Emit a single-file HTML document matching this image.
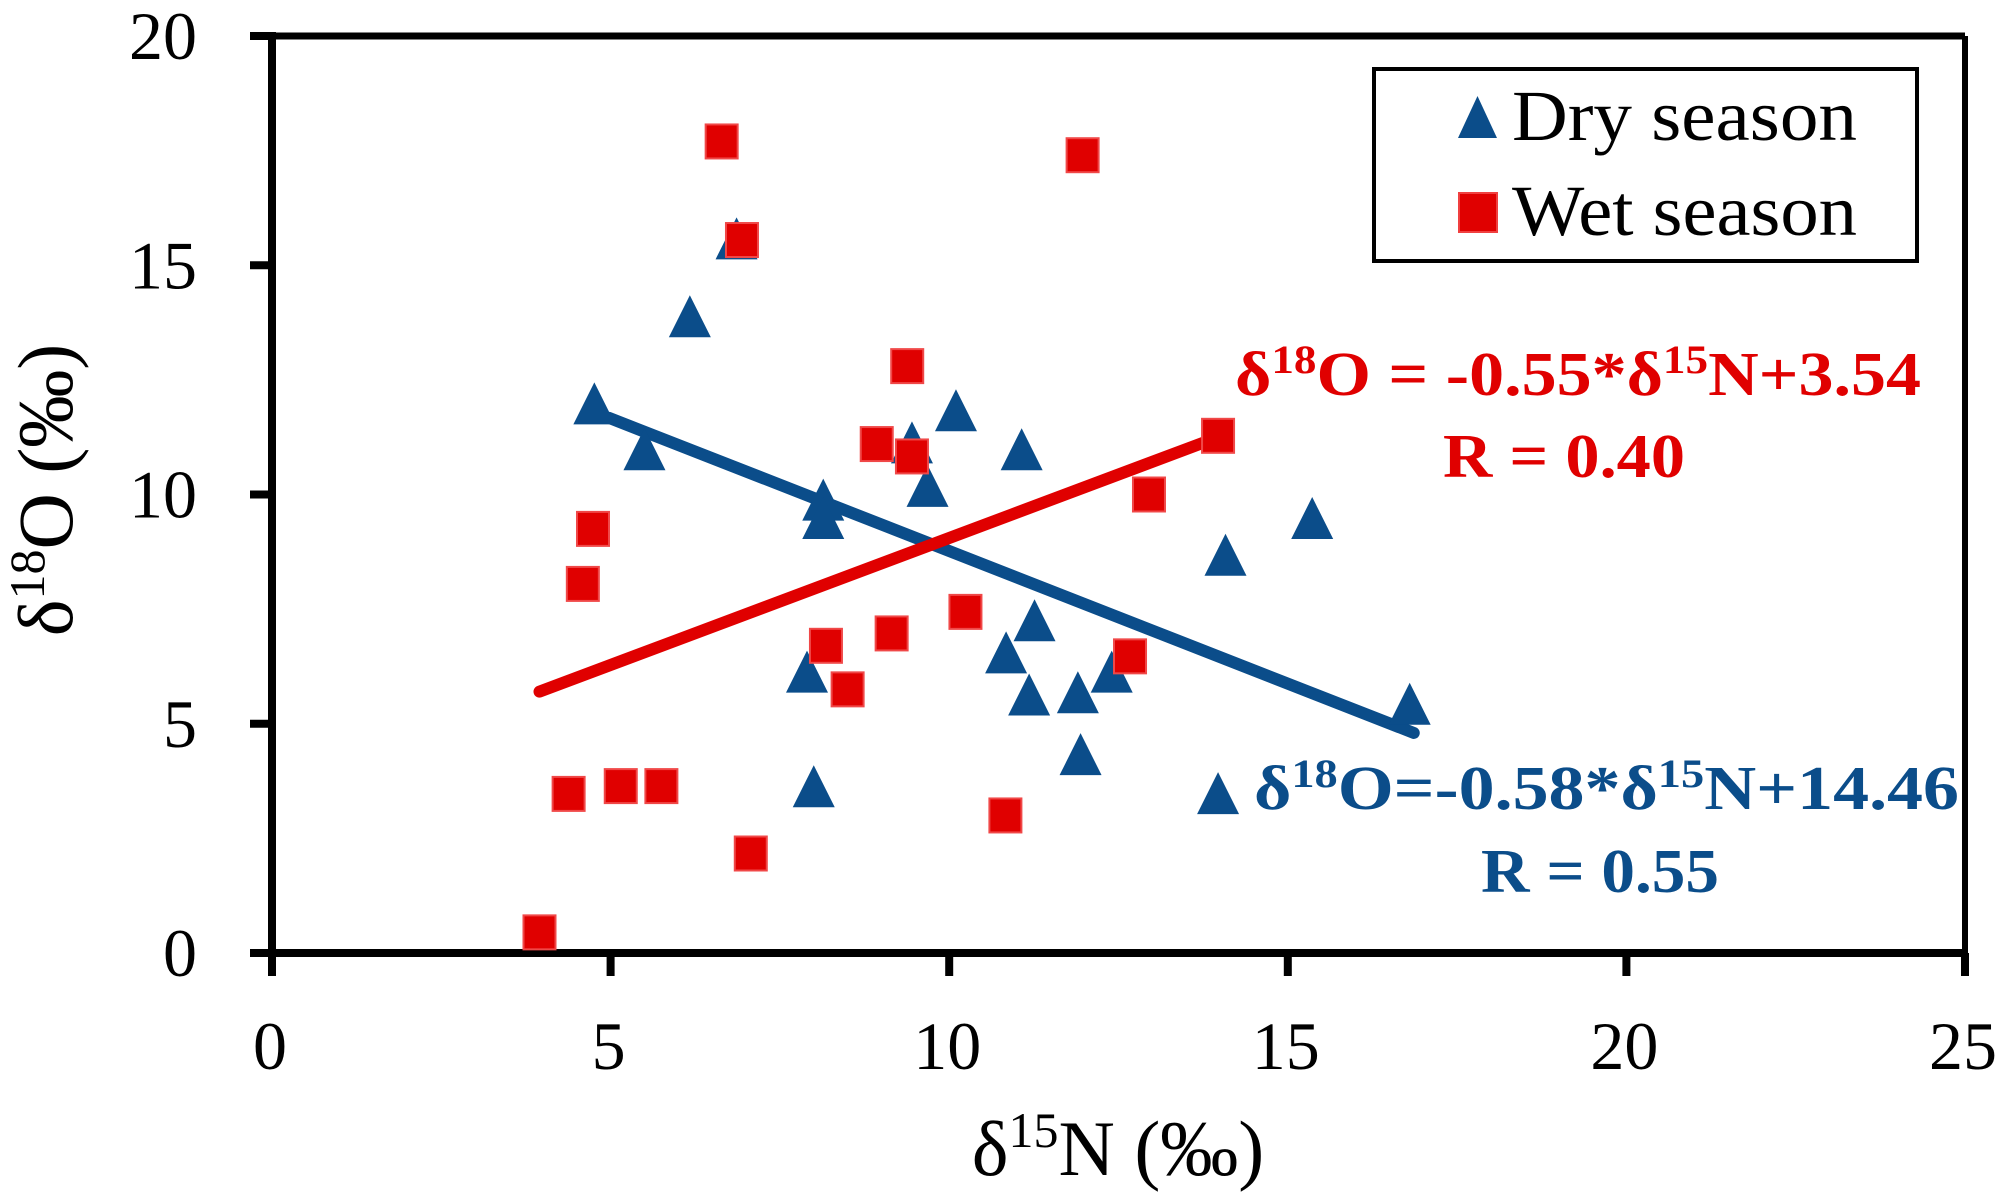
<!DOCTYPE html>
<html><head><meta charset="utf-8"><style>
html,body{margin:0;padding:0;background:#fff;}
svg{display:block;}
svg text{font-family:"Liberation Serif","Times New Roman",Times,serif;}
</style></head><body>
<svg id="chart" width="1997" height="1204" viewBox="0 0 1997 1204">
<g id="axes"></g>
<g id="lines"></g>
<g id="marks"></g>
<g>
<rect x="1374" y="69" width="543" height="192" fill="#fff" stroke="#000" stroke-width="4"/>
<polygon points="1458,138 1497,138 1477.5,96" fill="#0b4d8a"/>
<text x="1512" y="140" font-size="72" textLength="345" lengthAdjust="spacingAndGlyphs">Dry season</text>
<rect x="1459" y="193" width="38" height="39" fill="#e00000" stroke="#f04040" stroke-width="2"/>
<text x="1512" y="235" font-size="72" textLength="345" lengthAdjust="spacingAndGlyphs">Wet season</text>
</g>
<g font-weight="bold">
<text x="1235" y="395" font-size="62" fill="#e00000" textLength="686" lengthAdjust="spacingAndGlyphs">δ<tspan dy="-22" font-size="40">18</tspan><tspan dy="22">O = -0.55*δ</tspan><tspan dy="-22" font-size="40">15</tspan><tspan dy="22">N+3.54</tspan></text>
<text x="1443" y="477" font-size="62" fill="#e00000" textLength="242" lengthAdjust="spacingAndGlyphs">R = 0.40</text>
<text x="1254" y="809" font-size="62" fill="#0b4d8a" textLength="705" lengthAdjust="spacingAndGlyphs">δ<tspan dy="-22" font-size="40">18</tspan><tspan dy="22">O=-0.58*δ</tspan><tspan dy="-22" font-size="40">15</tspan><tspan dy="22">N+14.46</tspan></text>
<text x="1481" y="892" font-size="62" fill="#0b4d8a" textLength="238" lengthAdjust="spacingAndGlyphs">R = 0.55</text>
</g>
<text x="1118" y="1175" font-size="78" text-anchor="middle">δ<tspan dy="-28" font-size="50">15</tspan><tspan dy="28">N (‰)</tspan></text>
<text transform="translate(72,490) rotate(-90)" font-size="78" text-anchor="middle">δ<tspan dy="-28" font-size="50">18</tspan><tspan dy="28">O (‰)</tspan></text>
</svg>
<script>
const xTicks = [0, 5, 10, 15, 20, 25];
const yTicks = [0, 5, 10, 15, 20];
const dryX = [4.76, 5.5, 6.17, 6.86, 7.9, 8.0, 8.14, 8.14, 9.45, 9.68, 10.1, 10.84, 11.07, 11.26, 11.18, 11.9, 11.94, 12.4, 13.97, 14.08, 15.36, 16.8];
const dryY = [11.9, 10.9, 13.8, 15.5, 6.05, 3.55, 9.8, 9.4, 11.05, 10.1, 11.75, 6.47, 10.9, 7.17, 5.55, 5.6, 4.25, 6.05, 3.4, 8.6, 9.4, 5.35];
const wetX = [3.95, 4.38, 4.59, 4.74, 5.15, 5.75, 6.64, 6.94, 7.07, 8.18, 8.5, 8.93, 9.15, 9.38, 9.45, 10.24, 10.83, 11.97, 12.67, 12.95, 13.97];
const wetY = [0.45, 3.47, 8.05, 9.25, 3.64, 3.64, 17.7, 15.55, 2.17, 6.7, 5.75, 11.1, 6.97, 12.8, 10.83, 7.44, 3.0, 17.4, 6.47, 10.0, 11.28];
const wetLineX = [3.95, 13.97];
const wetLineY = [5.7, 11.25];
const dryLineX = [4.98, 16.86];
const dryLineY = [11.67, 4.8];

const NS = 'http://www.w3.org/2000/svg';
const X0 = 272, X1 = 1965, Y0 = 953, Y1 = 36;
function sx(v){ return X0 + (v - 0) / 25 * (X1 - X0); }
function sy(v){ return Y0 - (v - 0) / 20 * (Y0 - Y1); }
function mk(tag, attrs, parent){ const e = document.createElementNS(NS, tag); for (const k in attrs) e.setAttribute(k, attrs[k]); parent.appendChild(e); return e; }

const axes = document.getElementById('axes');
let e;
e = mk('line', {x1: X0, y1: Y1, x2: X1, y2: Y1, stroke: '#000', 'stroke-width': 7}, axes);


e = mk('line', {x1: X1, y1: Y1, x2: X1, y2: Y0, stroke: '#000', 'stroke-width': 6}, axes);


e = mk('line', {x1: X0, y1: Y1 - 4, x2: X0, y2: Y0 + 4, stroke: '#000', 'stroke-width': 8}, axes);


e = mk('line', {x1: X0 - 4, y1: Y0, x2: X1 + 3, y2: Y0, stroke: '#000', 'stroke-width': 8}, axes);



xTicks.forEach(function(t){
  const x = sx(t);
  const tk = mk('line', {x1: x, y1: Y0, x2: x, y2: Y0 + 23, stroke: '#000', 'stroke-width': 8}, axes);
  
  
  const lb = mk('text', {x: x - 2, y: 1069, 'font-size': 68, 'text-anchor': 'middle'}, axes);
  lb.textContent = t;
  
  
});
yTicks.forEach(function(t){
  const y = sy(t);
  const tk = mk('line', {x1: X0 - 22, y1: y, x2: X0, y2: y, stroke: '#000', 'stroke-width': 8}, axes);
  
  
  const lb = mk('text', {x: 197, y: y + 23, 'font-size': 68, 'text-anchor': 'end'}, axes);
  lb.textContent = t;
  
  
});

const lines = document.getElementById('lines');
e = mk('line', {x1: sx(dryLineX[0]), y1: sy(dryLineY[0]), x2: sx(dryLineX[1]), y2: sy(dryLineY[1]), stroke: '#0b4d8a', 'stroke-width': 12, 'stroke-linecap': 'round'}, lines);


e = mk('line', {x1: sx(wetLineX[0]), y1: sy(wetLineY[0]), x2: sx(wetLineX[1]), y2: sy(wetLineY[1]), stroke: '#e00000', 'stroke-width': 12, 'stroke-linecap': 'round'}, lines);



const marks = document.getElementById('marks');
dryX.forEach(function(v, i){
  const cx = sx(v), cy = sy(dryY[i]);
  const p = mk('polygon', {points: (cx - 21) + ',' + (cy + 17) + ' ' + (cx + 21) + ',' + (cy + 17) + ' ' + cx + ',' + (cy - 25), fill: '#0b4d8a'}, marks);
  
  
});
wetX.forEach(function(v, i){
  const cx = sx(v), cy = sy(wetY[i]);
  const r = mk('rect', {x: cx - 16, y: cy - 17, width: 32, height: 34, fill: '#e00000', stroke: '#f04848', 'stroke-width': 2}, marks);
  
  
});
</script>
</body></html>
